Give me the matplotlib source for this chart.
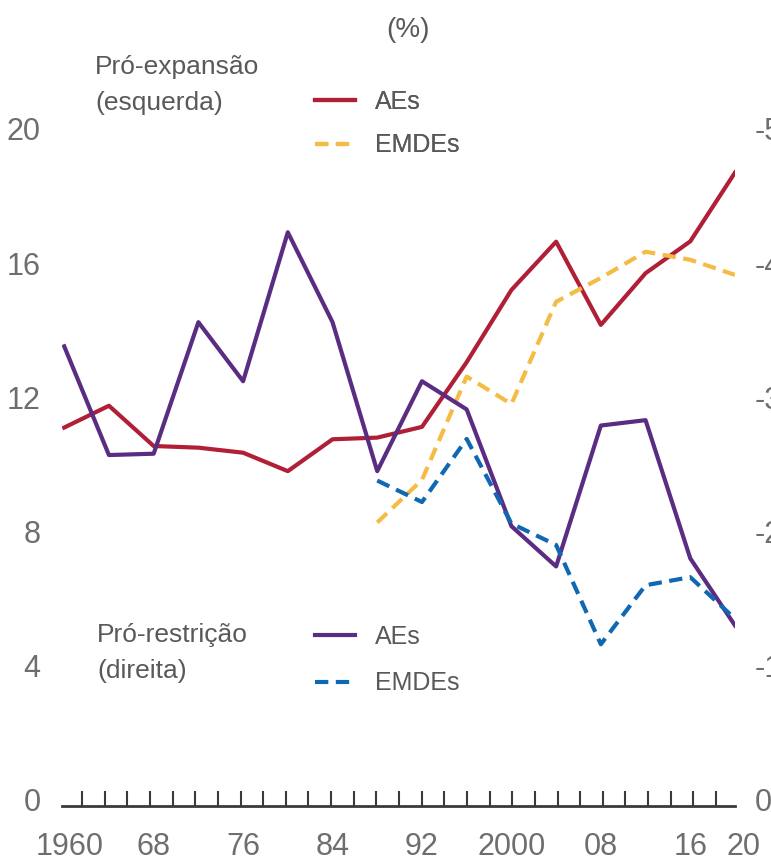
import numpy as np
import matplotlib
matplotlib.use('Agg')
import matplotlib.pyplot as plt

plt.rcParams['font.family'] = ['Liberation Sans Narrow', 'Liberation Sans', 'DejaVu Sans']

# data: share of fiscal stance episodes, every 4 years
years = [1960, 1964, 1968, 1972, 1976, 1980, 1984, 1988, 1992, 1996, 2000, 2004, 2008, 2012, 2016, 2020]
exp_aes = [11.1, 11.75, 10.55, 10.5, 10.35, 9.8, 10.75, 10.8, 11.12, 13.05, 15.2, 16.64, 14.16, 15.7, 16.65, 18.7]
emde_years = [1988, 1992, 1996, 2000, 2004, 2008, 2012, 2016, 2020]
exp_emdes = [8.27, 9.54, 12.62, 11.8, 14.85, 15.56, 16.34, 16.1, 15.65]
res_aes = [-33.8, -25.7, -25.8, -35.6, -31.2, -42.3, -35.6, -24.5, -31.2, -29.1, -20.4, -17.4, -27.9, -28.3, -18.0, -13.0]
res_emdes = [-23.8, -22.2, -26.9, -20.6, -19.0, -11.6, -16.0, -16.6, -13.5]

left_ticks = [0, 4, 8, 12, 16, 20]
right_ticks = [0, -10, -20, -30, -40, -50]
right_ticklabels = ['0', '-10', '-20', '-30', '-40', '-50']
xlab_pos = [1960, 1968, 1976, 1984, 1992, 2000, 2008, 2016, 2020]
xlab_txt = ['1960', '68', '76', '84', '92', '2000', '08', '16', '20']
xlab_nudge = [0.5, 0, 0, 0, 0, 0, 0, 0, 0.8]

RED = '#B11F37'
YEL = '#F5BC45'
PUR = '#5A2C82'
BLU = '#1068B2'
TXT = '#595959'
TCK = '#6e6e6e'
DASH = (0, (3.2, 1.8))

fig = plt.figure(figsize=(7.71, 8.61), dpi=100)
ax = fig.add_axes([0.0804, 0.0639, 0.8729, 0.8253])
ax2 = ax.twinx()

l1, = ax.plot(years, exp_aes, color=RED, lw=3, label='AEs', zorder=3)
l2, = ax.plot(emde_years, exp_emdes, color=YEL, lw=3, ls=DASH, label='EMDEs', zorder=3)
l3, = ax2.plot(years, res_aes, color=PUR, lw=3, label='AEs', zorder=3)
l4, = ax2.plot(emde_years, res_emdes, color=BLU, lw=3, ls=DASH, label='EMDEs', zorder=3)

ax.set_xlim(1959.8, 2020)
ax.set_ylim(-0.18, 21)
ax2.set_ylim(0.45, -52.5)

for a in (ax, ax2):
    for s in ('top', 'left', 'right'):
        a.spines[s].set_visible(False)
ax2.spines['bottom'].set_visible(False)
ax.spines['bottom'].set_linewidth(2)
ax.spines['bottom'].set_color('#3a3a3a')

ax.set_yticks(left_ticks)
ax.set_yticklabels([str(t) for t in left_ticks])
ax2.set_yticks(right_ticks)
ax2.set_yticklabels(right_ticklabels)
ax.tick_params(axis='y', length=0, pad=15.5, labelsize=22, labelcolor=TCK)
ax2.tick_params(axis='y', length=0, pad=14, labelsize=22, labelcolor=TCK)

ax.set_xticks(np.linspace(1961.6, 2018.3, 29))
ax.set_xticklabels([])
ax.tick_params(axis='x', direction='in', length=11, width=1.5, color='#3a3a3a')
for p, t, n in zip(xlab_pos, xlab_txt, xlab_nudge):
    ax.text(p + n, -0.037, t, transform=ax.get_xaxis_transform(), ha='center', va='top',
            fontsize=22, color=TCK)

leg1 = ax.legend(handles=[l1, l2], loc='upper left', bbox_to_anchor=(315 / 771, 1 - 90 / 861),
                 bbox_transform=fig.transFigure, frameon=False, fontsize=18, handlelength=1.6,
                 handletextpad=0.8, labelspacing=0.77, borderpad=0, borderaxespad=0)
for t in leg1.get_texts():
    t.set_color(TXT)
ax.add_artist(leg1)
leg2 = ax2.legend(handles=[l3, l4], loc='upper left', bbox_to_anchor=(315 / 771, 1 - 625 / 861),
                  bbox_transform=fig.transFigure, frameon=False, fontsize=18, handlelength=1.6,
                  handletextpad=0.8, labelspacing=0.89, borderpad=0, borderaxespad=0)
for t in leg2.get_texts():
    t.set_color(TXT)

fig.text(95 / 771, 1 - 55 / 861, 'Pró-expansão\n(esquerda)', ha='left', va='top', fontsize=19,
         color=TXT, linespacing=1.62, transform=fig.transFigure)
fig.text(97 / 771, 1 - 623 / 861, 'Pró-restrição\n(direita)', ha='left', va='top', fontsize=19,
         color=TXT, linespacing=1.62, transform=fig.transFigure)
fig.text(408 / 771, 1 - 30 / 861, '(%)', ha='center', va='center', fontsize=20, color=TXT)

fig.savefig('out.png', dpi=100)
